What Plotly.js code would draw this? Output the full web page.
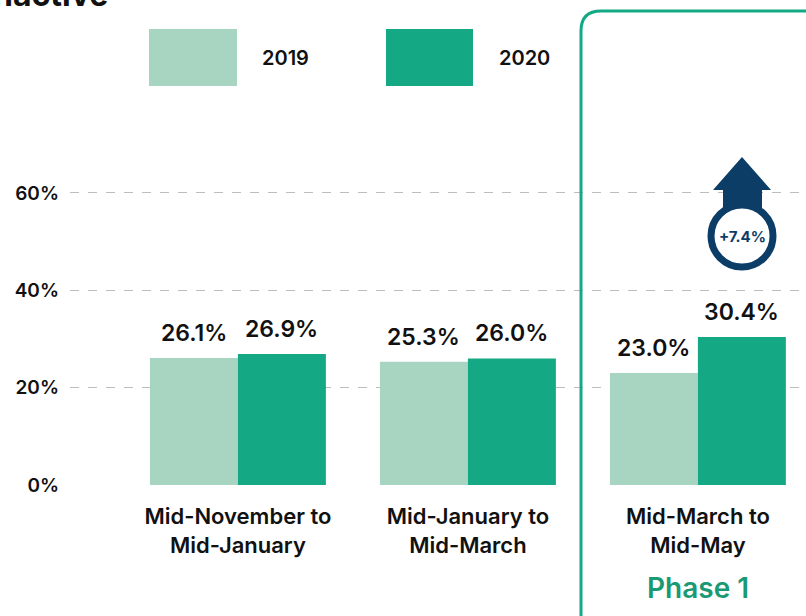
<!DOCTYPE html>
<html>
<head>
<meta charset="utf-8">
<script src="https://cdn.plot.ly/plotly-3.0.1.min.js"></script>
<style>html,body{margin:0;padding:0;background:#fff;}#chart{width:806px;height:616px;}</style>
</head>
<body>
<div id="chart"></div>
<script>
const categories = ["Mid-November to<br>Mid-January", "Mid-January to<br>Mid-March", "Mid-March to<br>Mid-May"];
const values2019 = [26.1, 25.3, 23.0];
const values2020 = [26.9, 26.0, 30.4];
const seriesNames = ["2019", "2020"];
const yTicks = [0, 20, 40, 60];
const changeLabel = "+7.4%";

const FONT = "Inter, 'Open Sans', sans-serif";
const LIGHT = "#a8d5c2";
const DARK = "#14a984";
const NAVY = "#0c3d66";

// pixel -> paper helpers (plot area: x 70..806, y 10..485)
const L = 70, W = 736, B = 485, H = 475;
const px = x => (x - L) / W;
const py = y => (B - y) / H;

const traces = [
  {type: "bar", name: seriesNames[0], x: categories, y: values2019, marker: {color: LIGHT}, hoverinfo: "skip"},
  {type: "bar", name: seriesNames[1], x: categories, y: values2020, marker: {color: DARK}, hoverinfo: "skip"}
];

const labelFont = {family: FONT, size: 23, color: "#111", weight: 600};
const valueLabels = [];
categories.forEach((c, i) => {
  valueLabels.push({x: c, y: values2019[i], xref: "x", yref: "y", text: values2019[i].toFixed(1) + "%",
    showarrow: false, xanchor: "center", yanchor: "middle", xshift: -44, yshift: 25, font: labelFont});
  valueLabels.push({x: c, y: values2020[i], xref: "x", yref: "y", text: values2020[i].toFixed(1) + "%",
    showarrow: false, xanchor: "center", yanchor: "middle", xshift: 44, yshift: 25, font: labelFont});
});

const arrowPath = [
  [742,157],[771,190],[762,190],[762,210],[723,210],[723,190],[713,190]
].map((p,i) => (i===0?"M ":"L ") + px(p[0]) + "," + py(p[1])).join(" ") + " Z";

// rounded frame
const r = 20;
const framePath = "M " + px(581) + "," + py(640) +
  " L " + px(581) + "," + py(11 + r) +
  " Q " + px(581) + "," + py(11) + " " + px(581 + r) + "," + py(11) +
  " L " + px(830) + "," + py(11);

const layout = {
  width: 806, height: 616,
  margin: {l: 70, r: 0, t: 10, b: 131},
  paper_bgcolor: "#fff", plot_bgcolor: "#fff",
  showlegend: false,
  barmode: "group", bargap: 0.235, bargroupgap: 0,
  font: {family: FONT, color: "#111"},
  xaxis: {type: "category", range: [-0.73, 2.47], showgrid: false, showline: false, zeroline: false,
    ticks: "", tickfont: {family: FONT, size: 22, color: "#111", weight: 600}, ticklabelstandoff: 16},
  yaxis: {range: [0, 97.6], tickvals: yTicks, ticktext: yTicks.map(v => v + "%"),
    showgrid: true, gridcolor: "#bdbdbd", griddash: "dash", gridwidth: 1, zeroline: false, showline: false,
    ticks: "", tickfont: {family: FONT, size: 19, color: "#111", weight: 600}, ticklabelstandoff: 10},
  shapes: [
    {type: "path", xref: "paper", yref: "paper", path: framePath, line: {color: DARK, width: 3}},
    {type: "rect", xref: "paper", yref: "paper", x0: px(149), x1: px(237), y0: py(86), y1: py(29), fillcolor: LIGHT, line: {width: 0}},
    {type: "rect", xref: "paper", yref: "paper", x0: px(386), x1: px(473), y0: py(86), y1: py(29), fillcolor: DARK, line: {width: 0}},
    {type: "path", xref: "paper", yref: "paper", path: arrowPath, fillcolor: NAVY, line: {width: 0}},
    {type: "circle", xref: "paper", yref: "paper", x0: px(711), x1: px(773), y0: py(267), y1: py(205), fillcolor: "#fff", line: {color: NAVY, width: 7}}
  ],
  annotations: valueLabels.concat([
    {xref: "paper", yref: "paper", x: px(110), y: py(16), xanchor: "right", yanchor: "bottom", text: "Inactive", showarrow: false,
     font: {family: FONT, size: 32, color: "#111", weight: 700}},
    {xref: "paper", yref: "paper", x: px(285), y: py(58), xanchor: "center", yanchor: "middle", text: seriesNames[0], showarrow: false,
     font: {family: FONT, size: 20, color: "#111", weight: 600}},
    {xref: "paper", yref: "paper", x: px(524), y: py(58), xanchor: "center", yanchor: "middle", text: seriesNames[1], showarrow: false,
     font: {family: FONT, size: 20, color: "#111", weight: 600}},
    {xref: "paper", yref: "paper", x: px(742), y: py(236), xanchor: "center", yanchor: "middle", text: changeLabel, showarrow: false,
     font: {family: FONT, size: 15, color: NAVY, weight: 700}},
    {xref: "paper", yref: "paper", x: px(698), y: py(588), xanchor: "center", yanchor: "middle", text: "Phase 1", showarrow: false,
     font: {family: FONT, size: 28, color: "#1a9a74", weight: 600}}
  ])
};

Plotly.newPlot("chart", traces, layout, {displayModeBar: false, staticPlot: true});
</script>
</body>
</html>
